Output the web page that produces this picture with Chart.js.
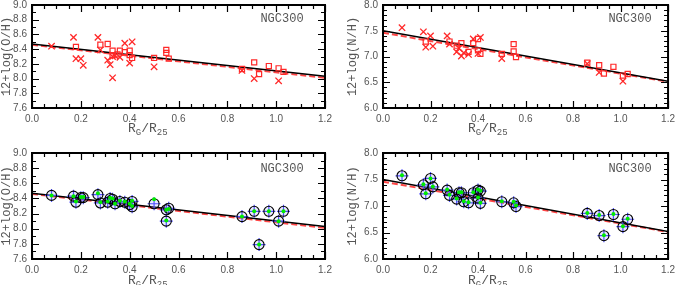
<!DOCTYPE html>
<html>
<head>
<meta charset="utf-8">
<script src="https://cdn.jsdelivr.net/npm/chart.js@4.4.1/dist/chart.umd.min.js"></script>
<style>
  body { margin: 0; background: #fff; }
  #wrap { position: relative; width: 680px; height: 285px; overflow: hidden; }
  canvas { position: absolute; }
</style>
</head>
<body>
<div id="wrap">
  <canvas id="ohTop" width="340" height="148" style="left:0;top:-6px"></canvas>
  <canvas id="nhTop" width="340" height="148" style="left:340px;top:-6px"></canvas>
  <canvas id="ohBottom" width="340" height="143" style="left:0;top:142px"></canvas>
  <canvas id="nhBottom" width="340" height="143" style="left:340px;top:142px"></canvas>
</div>
<script>
// fit lines, evaluated at the ends of the x range
const fitX = [0, 1.2];
const ohFitSolid = [8.47, 8.03];
const ohFitDashed = [8.46, 8.01];
const nhFitSolid = [7.50, 6.52];
const nhFitDashed = [7.46, 6.51];

// top left: O/H, crosses and squares
const ohCrossX = [0.08, 0.17, 0.18, 0.20, 0.21, 0.27, 0.28, 0.31, 0.32, 0.33, 0.33, 0.34, 0.36, 0.38, 0.41, 0.40, 0.50, 0.86, 0.91, 1.01];
const ohCrossY = [8.44, 8.56, 8.27, 8.27, 8.18, 8.56, 8.39, 8.25, 8.19, 8.01, 8.30, 8.31, 8.29, 8.48, 8.50, 8.21, 8.16, 8.11, 8.00, 7.97];
const ohSquareX = [0.18, 0.28, 0.31, 0.33, 0.36, 0.38, 0.40, 0.40, 0.41, 0.33, 0.35, 0.50, 0.55, 0.55, 0.56, 0.86, 0.91, 0.93, 0.97, 1.01, 1.03];
const ohSquareY = [8.43, 8.46, 8.47, 8.38, 8.38, 8.36, 8.38, 8.32, 8.28, 8.32, 8.33, 8.28, 8.39, 8.35, 8.27, 8.13, 8.22, 8.06, 8.17, 8.14, 8.09];

// top right: N/H, crosses and squares
const nhCrossX = [0.08, 0.17, 0.18, 0.20, 0.21, 0.27, 0.28, 0.31, 0.32, 0.33, 0.34, 0.36, 0.38, 0.40, 0.41, 0.50, 0.86, 0.91, 1.01];
const nhCrossY = [7.56, 7.48, 7.18, 7.40, 7.20, 7.40, 7.24, 7.09, 7.16, 7.01, 7.07, 7.04, 7.34, 7.06, 7.37, 6.96, 6.86, 6.69, 6.52];
const nhSquareX = [0.18, 0.28, 0.31, 0.33, 0.36, 0.38, 0.40, 0.40, 0.41, 0.50, 0.55, 0.55, 0.56, 0.86, 0.91, 0.93, 0.97, 1.01, 1.03];
const nhSquareY = [7.29, 7.29, 7.21, 7.26, 7.09, 7.26, 7.34, 7.12, 7.05, 7.05, 7.24, 7.10, 6.99, 6.88, 6.83, 6.67, 6.80, 6.63, 6.66];

// bottom left: O/H, circled points with green centres
const ohCircleX = [0.08, 0.17, 0.18, 0.20, 0.21, 0.27, 0.28, 0.31, 0.32, 0.33, 0.34, 0.36, 0.38, 0.40, 0.41, 0.41, 0.50, 0.55, 0.55, 0.56, 0.86, 0.91, 0.93, 0.97, 1.01, 1.03];
const ohCircleY = [8.44, 8.43, 8.35, 8.41, 8.41, 8.45, 8.34, 8.35, 8.40, 8.39, 8.33, 8.36, 8.35, 8.32, 8.36, 8.29, 8.33, 8.25, 8.10, 8.27, 8.16, 8.23, 7.79, 8.23, 8.10, 8.23];
const ohGreenY  = [8.44, 8.43, 8.36, 8.42, 8.42, 8.47, 8.35, 8.36, 8.41, 8.40, 8.33, 8.37, 8.36, 8.33, 8.37, 8.30, 8.39, 8.25, 8.11, 8.26, 8.16, 8.23, 7.79, 8.23, 8.10, 8.23];

// bottom right: N/H, circled points with green centres
const nhCircleX = [0.08, 0.17, 0.18, 0.20, 0.21, 0.27, 0.28, 0.31, 0.32, 0.33, 0.34, 0.36, 0.38, 0.40, 0.41, 0.40, 0.41, 0.50, 0.55, 0.56, 0.86, 0.91, 0.93, 0.97, 1.01, 1.03];
const nhCircleY = [7.57, 7.40, 7.23, 7.52, 7.36, 7.30, 7.20, 7.13, 7.25, 7.25, 7.08, 7.06, 7.25, 7.30, 7.28, 7.15, 7.05, 7.08, 7.06, 6.99, 6.86, 6.82, 6.44, 6.84, 6.61, 6.75];
const nhGreenY  = [7.58, 7.41, 7.24, 7.52, 7.37, 7.31, 7.21, 7.14, 7.26, 7.26, 7.09, 7.07, 7.26, 7.31, 7.29, 7.16, 7.06, 7.09, 7.08, 7.01, 6.87, 6.83, 6.45, 6.85, 6.62, 6.76];

const RED = 'rgb(255,40,40)';
const BLUE = 'rgb(80,80,255)';
const TEXT = '#555';

const pts = (xs, ys) => xs.map((x, i) => ({ x: x, y: ys[i] }));

function fitLines(solid, dashed) {
    return [
        { data: pts(fitX, solid), showLine: true, pointRadius: 0, borderColor: '#000', borderWidth: 1.5 },
        { data: pts(fitX, dashed), showLine: true, pointRadius: 0, borderColor: 'rgb(255,70,70)', borderWidth: 2, borderDash: [6, 3] }
    ];
}

function crossSquareSets(cx, cy, sx, sy) {
    return [
        { data: pts(cx, cy), pointStyle: 'crossRot', pointRadius: 4.5, borderColor: RED, borderWidth: 1.3 },
        { data: pts(sx, sy), pointStyle: 'rect', pointRadius: 3.6, borderColor: RED, backgroundColor: 'rgba(0,0,0,0)', borderWidth: 1.2 }
    ];
}

function circleSets(x, y, gy) {
    return [
        { data: pts(x, gy), pointStyle: 'circle', pointRadius: 2, borderWidth: 0, backgroundColor: 'rgb(0,235,0)' },
        { data: pts(x, y), pointStyle: 'circle', pointRadius: 5, borderColor: '#000', borderWidth: 1.1, backgroundColor: 'rgba(0,0,0,0)' },
        { data: pts(x, y), pointStyle: 'cross', pointRadius: 6.5, borderColor: BLUE, borderWidth: 1.2 },
        { data: pts(x, y), pointStyle: 'circle', pointRadius: 4.5, borderWidth: 0, backgroundColor: 'rgba(170,170,255,0.25)' }
    ];
}

// frame, inner ticks, panel label and subscripted x title
const framePlugin = {
    id: 'frame',
    afterDraw(chart) {
        const o = chart.options.plugins.frame;
        const ctx = chart.ctx;
        const a = chart.chartArea;
        const sx = chart.scales.x, sy = chart.scales.y;
        ctx.save();
        ctx.strokeStyle = '#000';
        ctx.lineWidth = 1.2;
        ctx.beginPath();
        for (let v = 0; v <= 1.2001; v += 0.05) {
            const px = Math.round(sx.getPixelForValue(v)) + 0.5;
            const major = Math.abs(v / 0.2 - Math.round(v / 0.2)) < 1e-6;
            const len = major ? 7 : 4;
            ctx.moveTo(px, a.bottom); ctx.lineTo(px, a.bottom - len);
            ctx.moveTo(px, a.top); ctx.lineTo(px, a.top + len);
        }
        for (let v = sy.min; v <= sy.max + 1e-6; v += o.yMinor) {
            const py = Math.round(sy.getPixelForValue(v)) + 0.5;
            const major = Math.abs((v - sy.min) / o.yMajor - Math.round((v - sy.min) / o.yMajor)) < 1e-6;
            const len = major ? 7 : 4;
            ctx.moveTo(a.left, py); ctx.lineTo(a.left + len, py);
            ctx.moveTo(a.right, py); ctx.lineTo(a.right - len, py);
        }
        ctx.stroke();
        ctx.lineWidth = 2;
        ctx.strokeRect(a.left, a.top, a.right - a.left, a.bottom - a.top);

        ctx.fillStyle = TEXT;
        ctx.font = '12px "Liberation Mono"';
        ctx.textAlign = 'center';
        ctx.textBaseline = 'middle';
        ctx.fillText('NGC300', o.labelX, o.labelY);

        // R_G/R_25
        ctx.textAlign = 'left';
        ctx.textBaseline = 'alphabetic';
        let x = o.titleX;
        const base = o.titleY;
        const part = (t, size, dy) => {
            ctx.font = size + 'px "Liberation Mono"';
            ctx.fillText(t, x, base + dy);
            x += ctx.measureText(t).width;
        };
        part('R', 13, 0);
        part('G', 9, 3);
        part('/R', 13, 0);
        part('25', 9, 3);
        ctx.restore();
    }
};

function makeChart(id, cfg) {
    new Chart(document.getElementById(id), {
        type: 'scatter',
        data: { datasets: cfg.datasets },
        options: {
            responsive: false,
            animation: false,
            events: [],
            layout: { padding: { top: cfg.top, right: cfg.right, left: 0, bottom: 0 } },
            plugins: {
                legend: { display: false },
                tooltip: { enabled: false },
                frame: cfg.frame
            },
            scales: {
                x: {
                    type: 'linear', min: 0, max: 1.2,
                    grid: { display: false, drawTicks: false },
                    border: { display: false },
                    ticks: { stepSize: 0.2, autoSkip: false, padding: 5, color: TEXT, font: { family: 'Liberation Sans', size: 10 }, callback: v => v.toFixed(1) },
                    afterFit: s => { s.height = cfg.xHeight; }
                },
                y: {
                    min: cfg.yMin, max: cfg.yMax,
                    grid: { display: false, drawTicks: false },
                    border: { display: false },
                    ticks: { stepSize: cfg.yStep, autoSkip: false, padding: 5, color: TEXT, font: { family: 'Liberation Sans', size: 10 }, callback: v => v.toFixed(1) },
                    title: { display: true, text: cfg.yTitle, color: TEXT, font: { family: 'Liberation Mono', size: 12 }, padding: { top: cfg.yTitlePad, bottom: 0 } },
                    afterFit: s => { s.width = cfg.yWidth; }
                }
            }
        },
        plugins: [framePlugin]
    });
}

makeChart('ohTop', {
    datasets: [...crossSquareSets(ohCrossX, ohCrossY, ohSquareX, ohSquareY), ...fitLines(ohFitSolid, ohFitDashed)],
    top: 9, right: 15, xHeight: 34, yWidth: 32, yTitlePad: 0,
    yMin: 7.6, yMax: 9.0, yStep: 0.2, yTitle: '12+log(O/H)',
    frame: { yMinor: 0.1, yMajor: 0.2, labelX: 282, labelY: 25, titleX: 128, titleY: 138 }
});

makeChart('nhTop', {
    datasets: [...crossSquareSets(nhCrossX, nhCrossY, nhSquareX, nhSquareY), ...fitLines(nhFitSolid, nhFitDashed)],
    top: 9, right: 7, xHeight: 34, yWidth: 43, yTitlePad: 6,
    yMin: 6.0, yMax: 8.0, yStep: 0.5, yTitle: '12+log(N/H)',
    frame: { yMinor: 0.1, yMajor: 0.5, labelX: 290, labelY: 25, titleX: 128, titleY: 138 }
});

makeChart('ohBottom', {
    datasets: [...circleSets(ohCircleX, ohCircleY, ohGreenY), ...fitLines(ohFitSolid, ohFitDashed)],
    top: 10, right: 15, xHeight: 26, yWidth: 32, yTitlePad: 0,
    yMin: 7.6, yMax: 9.0, yStep: 0.2, yTitle: '12+log(O/H)',
    frame: { yMinor: 0.1, yMajor: 0.2, labelX: 282, labelY: 27, titleX: 128, titleY: 142 }
});

makeChart('nhBottom', {
    datasets: [...circleSets(nhCircleX, nhCircleY, nhGreenY), ...fitLines(nhFitSolid, nhFitDashed)],
    top: 10, right: 7, xHeight: 26, yWidth: 43, yTitlePad: 6,
    yMin: 6.0, yMax: 8.0, yStep: 0.5, yTitle: '12+log(N/H)',
    frame: { yMinor: 0.1, yMajor: 0.5, labelX: 290, labelY: 27, titleX: 128, titleY: 142 }
});
</script>
</body>
</html>
